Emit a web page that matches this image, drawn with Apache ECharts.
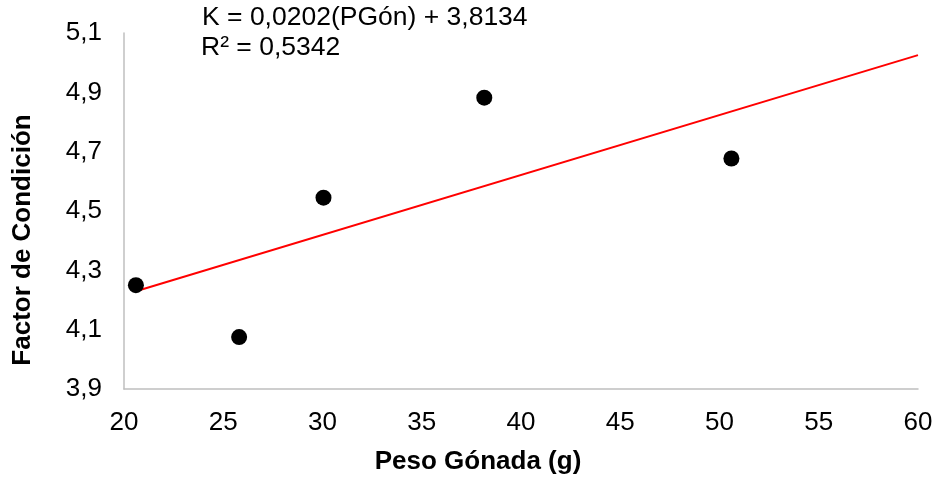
<!DOCTYPE html>
<html><head><meta charset="utf-8">
<script src="https://cdn.jsdelivr.net/npm/echarts@6/dist/echarts.min.js"></script>
<style>html,body{margin:0;padding:0;background:#fff}#c{width:937px;height:478px}</style>
</head><body><div id="c"></div>
<script>
const pesoGonada = [20.6, 25.8, 30.05, 38.15, 50.6];
const factorK = [4.25, 4.075, 4.545, 4.882, 4.677];
const trendSlope = 0.0202;
const trendIntercept = 3.8134;
const trendX = [20.6, 60];
const equationText = 'K = 0,0202(PGón) + 3,8134';
const r2Text = 'R² = 0,5342';
const xTitle = 'Peso Gónada (g)';
const yTitle = 'Factor de Condición';

const trendData = trendX.map(x => [x, trendSlope * x + trendIntercept]);
const fmt = v => String(Math.round(v * 10) / 10).replace('.', ',');
const font = 'Liberation Sans, Arial, sans-serif';
const chart = echarts.init(document.getElementById('c'), null, {renderer: 'canvas'});
chart.setOption({
  animation: false,
  backgroundColor: '#fff',
  grid: {left: 124, right: 19, top: 33, bottom: 89},
  xAxis: {
    type: 'value', min: 20, max: 60, interval: 5,
    axisLine: {show: true, lineStyle: {color: '#bfbfbf', width: 1.5}},
    axisTick: {show: false}, splitLine: {show: false},
    axisLabel: {fontFamily: font, fontSize: 26, color: '#000', margin: 21}
  },
  yAxis: {
    type: 'value', min: 3.9, max: 5.1, interval: 0.2,
    axisLine: {show: true, lineStyle: {color: '#bfbfbf', width: 1.5}},
    axisTick: {show: false}, splitLine: {show: false},
    axisLabel: {fontFamily: font, fontSize: 26, color: '#000', margin: 22, formatter: fmt}
  },
  series: [
    {type: 'line', data: trendData, symbol: 'none', lineStyle: {color: '#ff0000', width: 2}, z: 3},
    {type: 'scatter', data: pesoGonada.map((x, i) => [x, factorK[i]]), symbolSize: 16, itemStyle: {color: '#000', opacity: 1}, z: 4}
  ],
  graphic: [
    {type: 'text', left: 202, top: 4, style: {text: equationText, font: '26.5px ' + font, fill: '#000'}},
    {type: 'text', left: 201, top: 34, style: {text: r2Text, font: '26.5px ' + font, fill: '#000'}},
    {type: 'text', x: 478, y: 462, style: {text: xTitle, font: 'bold 26px ' + font, fill: '#000', align: 'center', verticalAlign: 'middle'}},
    {type: 'text', x: 23, y: 240, rotation: Math.PI / 2, style: {text: yTitle, font: 'bold 26px ' + font, fill: '#000', align: 'center', verticalAlign: 'middle'}}
  ]
});
</script></body></html>
